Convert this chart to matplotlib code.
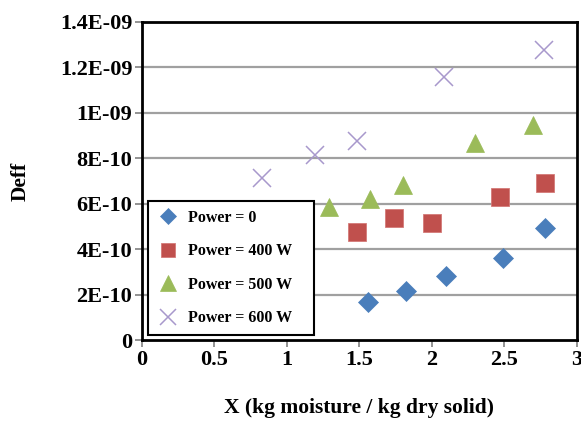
import matplotlib
matplotlib.use('Agg')
import matplotlib.pyplot as plt

plt.rcParams['font.family'] = ['Liberation Serif', 'DejaVu Serif']
plt.rcParams['font.weight'] = 'bold'

# Power = 0
x_p0 = [1.56, 1.82, 2.10, 2.49, 2.78]
y_p0 = [0.167e-9, 0.217e-9, 0.281e-9, 0.360e-9, 0.493e-9]
# Power = 400 W
x_p400 = [1.48, 1.74, 2.00, 2.47, 2.78]
y_p400 = [0.477e-9, 0.537e-9, 0.517e-9, 0.629e-9, 0.693e-9]
# Power = 500 W
x_p500 = [1.29, 1.57, 1.80, 2.30, 2.70]
y_p500 = [0.587e-9, 0.621e-9, 0.683e-9, 0.866e-9, 0.947e-9]
# Power = 600 W
x_p600 = [0.83, 1.19, 1.48, 2.08, 2.77]
y_p600 = [0.714e-9, 0.815e-9, 0.874e-9, 1.160e-9, 1.277e-9]

x_ticks = [0, 0.5, 1, 1.5, 2, 2.5, 3]
x_tick_labels = ['0', '0.5', '1', '1.5', '2', '2.5', '3']
y_ticks = [0, 0.2e-9, 0.4e-9, 0.6e-9, 0.8e-9, 1.0e-9, 1.2e-9, 1.4e-9]
y_tick_labels = ['0', '2E-10', '4E-10', '6E-10', '8E-10', '1E-09', '1.2E-09', '1.4E-09']

fig = plt.figure(figsize=(5.81, 4.23), dpi=100)
ax = fig.add_axes([0.2444, 0.1962, 0.7487, 0.7518])

for yv in y_ticks[1:-1]:
    ax.axhline(yv, color='#a0a0a0', lw=1.6, zorder=1)

ax.plot(x_p0, y_p0, 'D', ms=9.8, color='#4a7ebb', mec='#4a7ebb', mew=0.5, ls='none', label='Power = 0', zorder=3)
ax.plot(x_p400, y_p400, 's', ms=12.5, color='#c0504d', mec='#d47a78', mew=0.6, ls='none', label='Power = 400 W', zorder=3)
ax.plot(x_p500, y_p500, '^', ms=13.5, color='#9bbb59', mec='#9bbb59', mew=0.5, ls='none', label='Power = 500 W', zorder=3)
ax.plot(x_p600, y_p600, 'x', ms=13, color='#a898cc', mew=1.1, ls='none', label='Power = 600 W', zorder=3)

ax.set_xlim(0, 3)
ax.set_ylim(0, 1.4e-9)
ax.set_xticks(x_ticks)
ax.set_xticklabels(x_tick_labels)
ax.set_yticks(y_ticks)
ax.set_yticklabels(y_tick_labels)
ax.tick_params(axis='both', labelsize=16, length=5, width=1.2, color='#808080', pad=2, direction='out')
for lab in ax.get_xticklabels() + ax.get_yticklabels():
    lab.set_fontweight('bold')

for sp in ax.spines.values():
    sp.set_linewidth(2)
    sp.set_color('black')

ax.set_xlabel('X (kg moisture / kg dry solid)', fontsize=15.5, fontweight='bold', labelpad=20)
ax.set_ylabel('Deff', fontsize=15.5, fontweight='bold', labelpad=21)

leg = ax.legend(loc='lower left', bbox_to_anchor=(0.0138, 0.0157, 0.382, 0.4245), mode='expand',
                borderaxespad=0, fancybox=False, framealpha=1, edgecolor='black',
                prop={'size': 11.5, 'weight': 'bold'}, labelspacing=1.1, handletextpad=0.6,
                handlelength=1.35, borderpad=0.55, markerscale=0.85)
leg.get_frame().set_linewidth(1.5)

fig.savefig('out.png', dpi=100)
